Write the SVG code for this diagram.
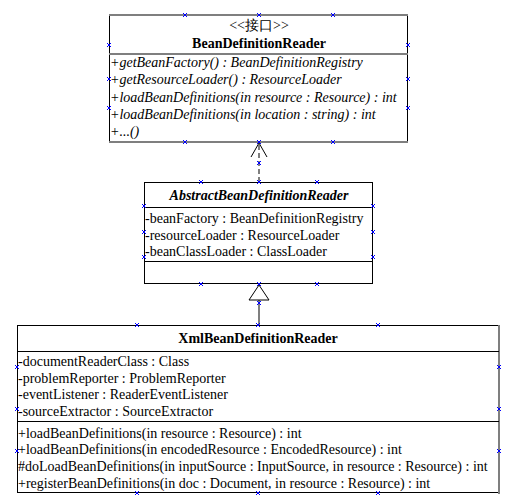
<svg xmlns="http://www.w3.org/2000/svg" width="515" height="501" viewBox="0 0 515 501" font-family="'Liberation Serif', 'Times New Roman', Times, serif">
<defs>
<style>
text{font-family:'Liberation Serif','Times New Roman',Times,serif;font-size:14px;fill:#000}
.t{font-weight:bold;text-anchor:middle}
.i{font-style:italic}
.c{text-anchor:middle}
.box{fill:#fff;stroke:#000;stroke-width:1}
.g{stroke:#7f7f7f;stroke-width:2;fill:none}
.k{stroke:#000;stroke-width:1;fill:none}
.h{stroke:#0000ff;stroke-width:1;fill:none}
</style>
<g id="hx"><path class="h" d="M-2,-2L2,2M-2,2L2,-2"/></g>
</defs>
<g id="connectors">
<line x1="259" y1="182" x2="259" y2="143" stroke="#7f7f7f" stroke-width="2" stroke-dasharray="5,3"/>
<path d="M251,157L259,143L267,157" fill="none" stroke="#000" stroke-width="1"/>
<line x1="259" y1="300" x2="259" y2="325" stroke="#7f7f7f" stroke-width="2"/>
<path d="M259,285L249,300L269,300Z" fill="#fff" stroke="#000" stroke-width="1"/>
</g>
<g id="BeanDefinitionReader">
<rect class="box" x="109.5" y="15.5" width="298" height="126"/>
<line class="g" x1="109" y1="15" x2="408" y2="15"/>
<line class="g" x1="109" y1="54" x2="408" y2="54"/>
<line class="g" x1="109" y1="142" x2="408" y2="142"/>
<text class="c" x="259" y="30" font-family="'Liberation Serif','Noto Sans CJK SC',serif">&lt;&lt;接口&gt;&gt;</text>
<text class="t" x="259" y="48" font-family="'Liberation Serif',serif">BeanDefinitionReader</text>
<text class="i" x="110" y="67" font-family="'Liberation Serif',serif">+getBeanFactory() : BeanDefinitionRegistry</text>
<text class="i" x="110" y="84" font-family="'Liberation Serif',serif">+getResourceLoader() : ResourceLoader</text>
<text class="i" x="110" y="102" font-family="'Liberation Serif',serif">+loadBeanDefinitions(in resource : Resource) : int</text>
<text class="i" x="110" y="119" font-family="'Liberation Serif',serif">+loadBeanDefinitions(in location : string) : int</text>
<text class="i" x="110" y="136" font-family="'Liberation Serif',serif">+...()</text>
</g>
<g id="AbstractBeanDefinitionReader">
<rect class="box" x="144.5" y="182.5" width="228" height="101"/>
<line class="k" x1="144" y1="207.5" x2="373" y2="207.5"/>
<line class="k" x1="144" y1="261.5" x2="373" y2="261.5"/>
<text class="t i" x="259" y="200" font-family="'Liberation Serif',serif">AbstractBeanDefinitionReader</text>
<text x="145" y="223" font-family="'Liberation Serif',serif">-beanFactory : BeanDefinitionRegistry</text>
<text x="145" y="240" font-family="'Liberation Serif',serif">-resourceLoader : ResourceLoader</text>
<text x="145" y="256" font-family="'Liberation Serif',serif">-beanClassLoader : ClassLoader</text>
</g>
<g id="XmlBeanDefinitionReader">
<rect class="box" x="17.5" y="325.5" width="481" height="167"/>
<line class="g" x1="499" y1="325" x2="499" y2="494"/>
<line class="k" x1="17" y1="351.5" x2="499" y2="351.5"/>
<line class="k" x1="17" y1="421.5" x2="499" y2="421.5"/>
<text class="t" x="258" y="343" font-family="'Liberation Serif',serif">XmlBeanDefinitionReader</text>
<text x="18" y="366" font-family="'Liberation Serif',serif">-documentReaderClass : Class</text>
<text x="18" y="383" font-family="'Liberation Serif',serif">-problemReporter : ProblemReporter</text>
<text x="18" y="399" font-family="'Liberation Serif',serif">-eventListener : ReaderEventListener</text>
<text x="18" y="416" font-family="'Liberation Serif',serif">-sourceExtractor : SourceExtractor</text>
<text x="18" y="438" font-family="'Liberation Serif',serif">+loadBeanDefinitions(in resource : Resource) : int</text>
<text x="18" y="454" font-family="'Liberation Serif',serif">+loadBeanDefinitions(in encodedResource : EncodedResource) : int</text>
<text x="18" y="471" font-family="'Liberation Serif',serif">#doLoadBeanDefinitions(in inputSource : InputSource, in resource : Resource) : int</text>
<text x="18" y="488" font-family="'Liberation Serif',serif">+registerBeanDefinitions(in doc : Document, in resource : Resource) : int</text>
</g>
<g id="handles">
<use href="#hx" x="185" y="15"/><use href="#hx" x="259" y="15"/><use href="#hx" x="333" y="15"/>
<use href="#hx" x="185" y="142"/><use href="#hx" x="259" y="142"/><use href="#hx" x="333" y="142"/>
<use href="#hx" x="109" y="45"/><use href="#hx" x="109" y="79"/><use href="#hx" x="109" y="108"/>
<use href="#hx" x="408" y="45"/><use href="#hx" x="408" y="79"/><use href="#hx" x="408" y="108"/>
<use href="#hx" x="259" y="163"/>
<use href="#hx" x="201" y="182"/><use href="#hx" x="259" y="182"/><use href="#hx" x="317" y="182"/>
<use href="#hx" x="201" y="284"/><use href="#hx" x="259" y="284"/><use href="#hx" x="317" y="284"/>
<use href="#hx" x="144" y="206"/><use href="#hx" x="144" y="232"/><use href="#hx" x="144" y="257"/>
<use href="#hx" x="373" y="206"/><use href="#hx" x="373" y="232"/><use href="#hx" x="373" y="257"/>
<use href="#hx" x="259" y="303"/>
<use href="#hx" x="137" y="325"/><use href="#hx" x="258" y="325"/><use href="#hx" x="378" y="325"/>
<use href="#hx" x="137" y="493"/><use href="#hx" x="258" y="493"/><use href="#hx" x="378" y="493"/>
<use href="#hx" x="17" y="367"/><use href="#hx" x="17" y="409"/><use href="#hx" x="17" y="451"/>
<use href="#hx" x="499" y="367"/><use href="#hx" x="499" y="409"/><use href="#hx" x="499" y="451"/>
</g>
</svg>
